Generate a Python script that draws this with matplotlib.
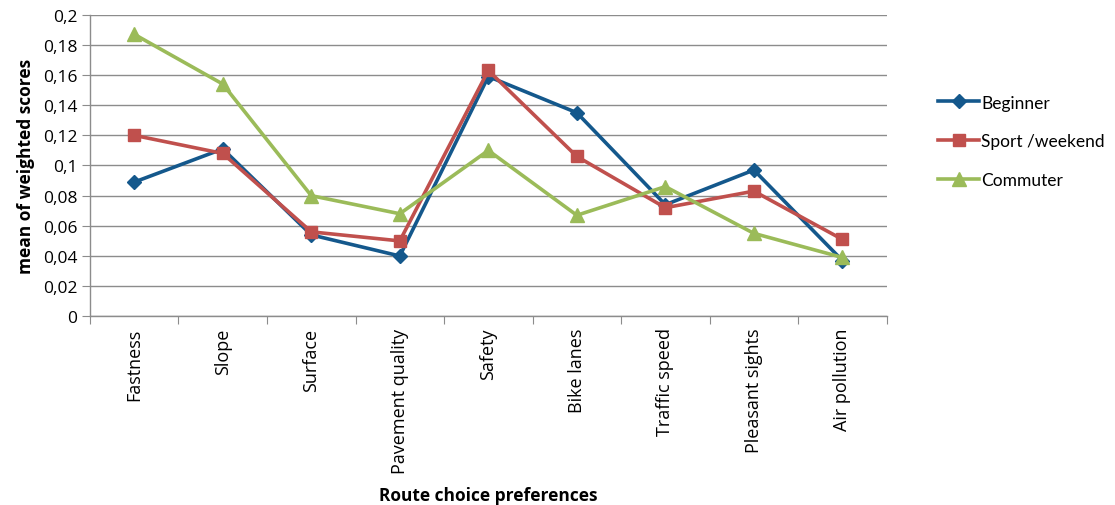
import matplotlib
matplotlib.use("Agg")
import matplotlib.pyplot as plt
import numpy as np

categories = ["Fastness", "Slope", "Surface", "Pavement quality", "Safety",
              "Bike lanes", "Traffic speed", "Pleasant sights", "Air pollution"]
beginner = [0.089, 0.111, 0.054, 0.040, 0.159, 0.135, 0.074, 0.097, 0.037]
sport = [0.120, 0.108, 0.056, 0.050, 0.163, 0.106, 0.072, 0.083, 0.051]
commuter = [0.187, 0.154, 0.080, 0.068, 0.110, 0.067, 0.086, 0.055, 0.039]
yticks = [0, 0.02, 0.04, 0.06, 0.08, 0.1, 0.12, 0.14, 0.16, 0.18, 0.2]
ytick_labels = ["0", "0,02", "0,04", "0,06", "0,08", "0,1", "0,12", "0,14", "0,16", "0,18", "0,2"]

plt.rcParams['font.family'] = ['Open Sans', 'DejaVu Sans']

fig = plt.figure(figsize=(11.15, 5.06), dpi=100)
ax = fig.add_axes([0.0807, 0.3729, 0.7145, 0.5961])

x = np.arange(len(categories))
ax.plot(x, beginner, color="#14588C", lw=2.6, marker="D", ms=7.5, label="Beginner", zorder=3)
ax.plot(x, sport, color="#C0504D", lw=2.6, marker="s", ms=9, label="Sport /weekend", zorder=4)
ax.plot(x, commuter, color="#9BBB59", lw=2.6, marker="^", ms=9.5, label="Commuter", zorder=5)

ax.set_xlim(-0.5, len(categories) - 0.5)
ax.set_ylim(0, 0.2)
ax.set_yticks(yticks)
ax.set_yticklabels(ytick_labels, fontsize=12.5)
ax.yaxis.grid(True, color="#8C8C8C", lw=1)
ax.set_axisbelow(True)

ax.set_xticks(np.arange(-0.5, len(categories), 1.0))
ax.set_xticklabels([])
ax.set_xticks(x, minor=True)
ax.set_xticklabels(categories, minor=True, rotation=90, fontsize=13)
ax.tick_params(axis='x', which='minor', length=0, pad=8)
ax.tick_params(axis='x', which='major', length=6, color="#8C8C8C")
ax.tick_params(axis='y', length=6, color="#8C8C8C", pad=3)

for s in ["top", "right"]:
    ax.spines[s].set_visible(False)
for s in ["left", "bottom"]:
    ax.spines[s].set_color("#8C8C8C")
    ax.spines[s].set_linewidth(1)

ax.set_xlabel("Route choice preferences", fontsize=12.5, fontweight="bold", labelpad=10)
ax.set_ylabel("mean of weighted scores", fontsize=12.5, fontweight="bold", labelpad=6)

fig.legend(loc="upper left", bbox_to_anchor=(0.827, 0.842), frameon=False,
           prop={'family': ['Lato', 'DejaVu Sans'], 'size': 12.5},
           handlelength=2.4, labelspacing=1.3, handletextpad=0.1)

fig.savefig("out.png", dpi=100)
